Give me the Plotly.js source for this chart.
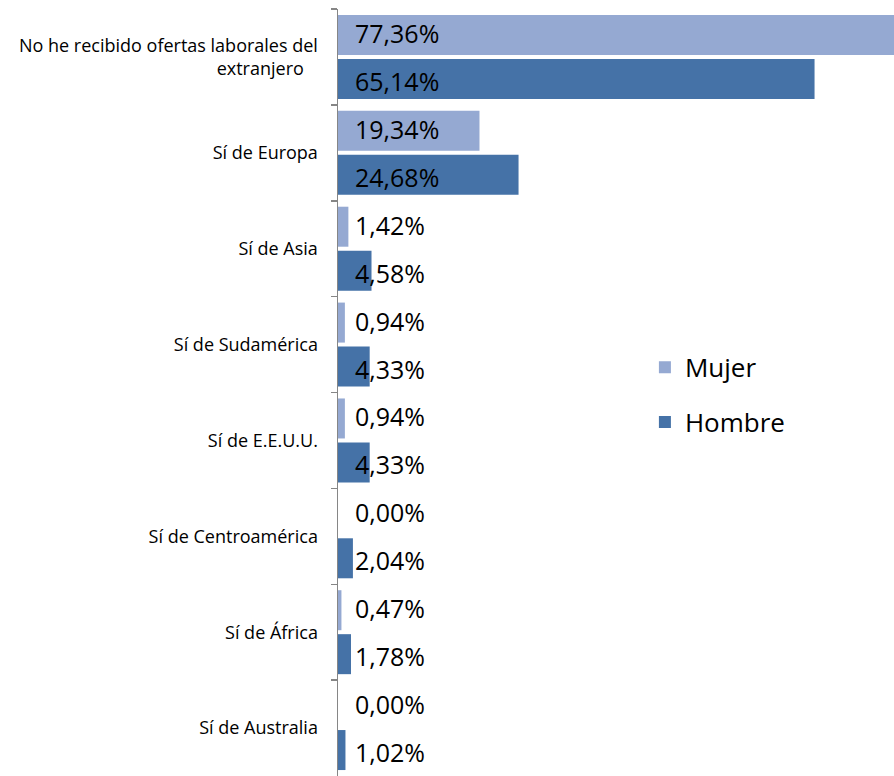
<!DOCTYPE html>
<html>
<head>
<meta charset="utf-8">
<script src="https://cdn.plot.ly/plotly-3.0.1.min.js"></script>
<style>html,body{margin:0;padding:0;background:#fff;}#chart{width:894px;height:776px;}</style>
</head>
<body>
<div id="chart"></div>
<script>
const categories = ["No he recibido ofertas laborales del<br>extranjero&nbsp;&nbsp;&nbsp;", "Sí de Europa", "Sí de Asia", "Sí de Sudamérica", "Sí de E.E.U.U.", "Sí de Centroamérica", "Sí de África", "Sí de Australia"];
const mujer = [77.36, 19.34, 1.42, 0.94, 0.94, 0.00, 0.47, 0.00];
const hombre = [65.14, 24.68, 4.58, 4.33, 4.33, 2.04, 1.78, 1.02];
const seriesNames = ["Mujer", "Hombre"];

const fmt = v => v.toFixed(2).replace('.', ',') + '%';
const FONT = "Open Sans, sans-serif";

const traces = [
  {type:'bar', orientation:'h', name:seriesNames[0], y:categories, x:mujer,
   marker:{color:'#95A9D2'}, legendgroup:'a', hoverinfo:'none'},
  {type:'bar', orientation:'h', name:seriesNames[1], y:categories, x:hombre,
   marker:{color:'#4572A7'}, legendgroup:'b', hoverinfo:'none'}
];

const annotations = [];
categories.forEach((c, i) => {
  annotations.push({xref:'x', yref:'y', x:0, y:c, text:fmt(mujer[i]), showarrow:false,
    xanchor:'left', xshift:15, yshift:24, font:{family:FONT, size:25, color:'#000'}});
  annotations.push({xref:'x', yref:'y', x:0, y:c, text:fmt(hombre[i]), showarrow:false,
    xanchor:'left', xshift:15, yshift:-24, font:{family:FONT, size:25, color:'#000'}});
});

const layout = {
  width:894, height:776,
  margin:{l:338, r:0, t:9, b:0, pad:0},
  paper_bgcolor:'#fff', plot_bgcolor:'#fff',
  barmode:'group', bargap:0.083, bargroupgap:0.09,
  font:{family:FONT, color:'#000'},
  xaxis:{range:[0,76], visible:false, fixedrange:true},
  yaxis:{type:'category', autorange:'reversed', showline:true, linecolor:'#868686', linewidth:1.5,
    ticks:'outside', tickson:'boundaries', ticklen:6, tickcolor:'#868686', tickwidth:1.5,
    showgrid:false, zeroline:false, ticklabelstandoff:15,
    tickfont:{family:FONT, size:18, color:'#000'}},
  showlegend:true,
  legend:{x:0.552, xanchor:'left', y:0.497, yanchor:'middle', traceorder:'grouped', tracegroupgap:18,
    font:{family:FONT, size:26, color:'#000'}, bgcolor:'rgba(0,0,0,0)'},
  annotations:annotations
};

Plotly.newPlot('chart', traces, layout, {staticPlot:true, displayModeBar:false});
</script>
</body>
</html>
